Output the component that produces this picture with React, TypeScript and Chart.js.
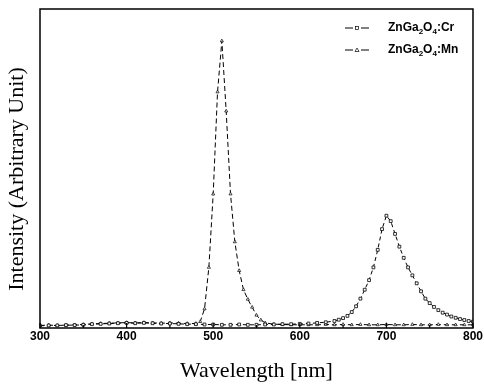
import React, { useEffect, useRef } from "react";
import { Chart, registerables } from "chart.js";

Chart.register(...registerables);

const crWavelengths = [
  300, 310, 320, 330, 340, 350, 360, 370, 380, 390, 400, 410, 420, 430, 440, 450, 460, 470, 480, 490,
  500, 510, 520, 530, 540, 550, 560, 570, 580, 590, 600, 610, 620, 630,
  640, 645, 650, 655, 660, 665, 670, 675, 680, 685, 690, 695, 700, 705, 710, 715, 720, 725, 730, 735,
  740, 745, 750, 755, 760, 765, 770, 775, 780, 785, 790, 795, 800,
];
const crIntensity = [
  0.007, 0.008, 0.008, 0.009, 0.009, 0.01, 0.012, 0.013, 0.014, 0.015, 0.016, 0.015, 0.016, 0.015, 0.014, 0.014, 0.013, 0.012, 0.012, 0.011,
  0.011, 0.01, 0.01, 0.011, 0.01, 0.01, 0.011, 0.011, 0.012, 0.012, 0.013, 0.014, 0.016, 0.018,
  0.022, 0.026, 0.031, 0.038, 0.05, 0.068, 0.092, 0.12, 0.15, 0.19, 0.245, 0.31, 0.352, 0.335, 0.295, 0.255, 0.22, 0.19, 0.165, 0.14,
  0.115, 0.092, 0.078, 0.066, 0.056, 0.048, 0.042, 0.036, 0.032, 0.028, 0.025, 0.022, 0.02,
];

const mnWavelengths = [
  300, 310, 320, 330, 340, 350, 360, 370, 380, 390, 400, 410, 420, 430, 440, 450, 460, 470, 480,
  485, 490, 495, 500, 505, 510, 515, 520, 525, 530, 535, 540, 545, 550, 555, 560,
  570, 580, 590, 600, 610, 620, 630, 640, 650, 660, 670, 680, 690, 700, 710, 720, 730, 740, 750, 760, 770, 780, 790, 800,
];
const mnIntensity = [
  0.008, 0.009, 0.008, 0.009, 0.01, 0.011, 0.013, 0.014, 0.015, 0.016, 0.017, 0.016, 0.017, 0.016, 0.015, 0.016, 0.015, 0.014, 0.014,
  0.02, 0.06, 0.19, 0.42, 0.74, 0.9, 0.68, 0.42, 0.27, 0.18, 0.12, 0.09, 0.065, 0.04, 0.025, 0.016,
  0.012, 0.011, 0.01, 0.01, 0.01, 0.01, 0.011, 0.01, 0.011, 0.01, 0.011, 0.01, 0.01, 0.011, 0.01, 0.01, 0.011, 0.01, 0.01, 0.011, 0.01, 0.01, 0.01, 0.01,
];

const xMajorTicks = [300, 400, 500, 600, 700, 800];
const xMinorTicks = [350, 450, 550, 650, 750];
const xTitle = "Wavelength [nm]";
const yTitle = "Intensity (Arbitrary Unit)";
// legend labels: [text, isSubscript]
const crLabel: [string, boolean][] = [["ZnGa", false], ["2", true], ["O", false], ["4", true], [":Cr", false]];
const mnLabel: [string, boolean][] = [["ZnGa", false], ["2", true], ["O", false], ["4", true], [":Mn", false]];

const decorPlugin = {
  id: "decor",
  afterDraw(chart: any) {
    const ctx = chart.ctx as CanvasRenderingContext2D;
    const { left, right, top, bottom } = chart.chartArea;
    const xs = chart.scales.x;
    ctx.save();
    // frame
    ctx.strokeStyle = "#000";
    ctx.lineWidth = 1.5;
    ctx.strokeRect(left, top, right - left, bottom - top);
    // inward ticks
    ctx.lineWidth = 1.2;
    ctx.beginPath();
    xMajorTicks.forEach((v) => {
      const px = xs.getPixelForValue(v);
      ctx.moveTo(px, bottom);
      ctx.lineTo(px, bottom - 5);
    });
    xMinorTicks.forEach((v) => {
      const px = xs.getPixelForValue(v);
      ctx.moveTo(px, bottom);
      ctx.lineTo(px, bottom - 3);
    });
    ctx.stroke();

    // titles
    ctx.fillStyle = "#000";
    ctx.font = "22px 'Liberation Serif'";
    ctx.textAlign = "center";
    ctx.textBaseline = "middle";
    ctx.fillText(xTitle, (left + right) / 2, 371);
    ctx.save();
    ctx.translate(17, 179);
    ctx.rotate(-Math.PI / 2);
    ctx.fillText(yTitle, 0, 0);
    ctx.restore();

    // legend
    const drawEntry = (y: number, parts: [string, boolean][], marker: "rect" | "triangle") => {
      ctx.strokeStyle = "#000";
      ctx.lineWidth = 1;
      ctx.beginPath();
      ctx.moveTo(345, y);
      ctx.lineTo(353, y);
      ctx.moveTo(361, y);
      ctx.lineTo(369, y);
      ctx.stroke();
      ctx.lineWidth = 0.7;
      if (marker === "rect") {
        ctx.strokeRect(355.5, y - 1.5, 3, 3);
      } else {
        ctx.beginPath();
        ctx.moveTo(357, y - 2);
        ctx.lineTo(359, y + 1.5);
        ctx.lineTo(355, y + 1.5);
        ctx.closePath();
        ctx.stroke();
      }
      let x = 388;
      ctx.textAlign = "left";
      ctx.textBaseline = "middle";
      parts.forEach(([t, sub]) => {
        ctx.font = sub ? "bold 8px 'Liberation Sans'" : "bold 12px 'Liberation Sans'";
        ctx.fillText(t, x, sub ? y + 4 : y);
        x += ctx.measureText(t).width;
      });
    };
    drawEntry(28, crLabel, "rect");
    drawEntry(50, mnLabel, "triangle");
    ctx.restore();
  },
};

export default function App() {
  const ref = useRef<HTMLCanvasElement | null>(null);
  useEffect(() => {
    document.body.style.margin = "0";
    const canvas = ref.current!;
    const chart = new Chart(canvas, {
      type: "line",
      data: {
        datasets: [
          {
            label: "ZnGa2O4:Cr",
            data: crWavelengths.map((x, i) => ({ x, y: crIntensity[i] })),
            borderColor: "#000",
            borderWidth: 1,
            borderDash: [4, 3],
            pointStyle: "rect",
            pointRadius: 2,
            pointBorderWidth: 0.8,
            pointBackgroundColor: "#fff",
            pointBorderColor: "#000",
            tension: 0,
          },
          {
            label: "ZnGa2O4:Mn",
            data: mnWavelengths.map((x, i) => ({ x, y: mnIntensity[i] })),
            borderColor: "#000",
            borderWidth: 1,
            borderDash: [5, 3],
            pointStyle: "triangle",
            pointRadius: 1.8,
            pointBorderWidth: 0.7,
            pointBackgroundColor: "#fff",
            pointBorderColor: "#000",
            tension: 0,
          },
        ],
      },
      options: {
        animation: false,
        responsive: false,
        layout: { padding: { top: 9, right: 11, left: 0, bottom: 0 } },
        plugins: { legend: { display: false }, tooltip: { enabled: false } },
        scales: {
          x: {
            type: "linear",
            min: 300,
            max: 800,
            afterBuildTicks: (scale: any) => {
              scale.ticks = xMajorTicks.map((v) => ({ value: v }));
            },
            ticks: {
              color: "#000",
              font: { family: "'Liberation Sans'", size: 12, weight: "bold" },
              padding: 1,
              autoSkip: false,
              maxRotation: 0,
            },
            grid: { display: false, drawTicks: false },
            border: { display: false },
            afterFit: (scale: any) => {
              scale.height = 57;
            },
          },
          y: {
            min: 0,
            max: 1,
            ticks: { display: false },
            grid: { display: false, drawTicks: false },
            border: { display: false },
            afterFit: (scale: any) => {
              scale.width = 40;
            },
          },
        },
      },
      plugins: [decorPlugin],
    } as any);
    return () => chart.destroy();
  }, []);
  return (
    <div style={{ width: 484, height: 385, background: "#fff" }}>
      <canvas ref={ref} width={484} height={385} />
    </div>
  );
}
